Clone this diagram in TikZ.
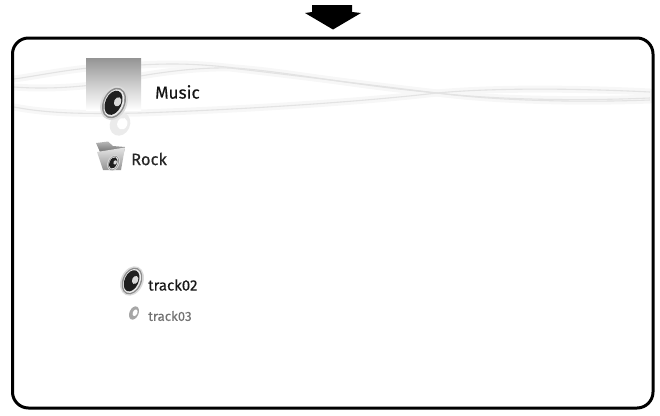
\documentclass[tikz,border=0pt]{standalone}
\usepackage{fontspec}
\setmainfont[FakeBold=0.35]{Fira Sans}
\tikzset{
  frame/.style={draw=black,line width=3pt,rounded corners=16pt},
  lab/.style={anchor=west,inner sep=0pt,text=#1},
  halo/.style={draw=black!3,line width=7pt,line cap=round},
  wavy/.style={draw=black!11,line width=1.1pt},
}
\newcommand{\wavepaths}[1]{%
  \draw[#1] (14,79) .. controls (50,74) and (80,66) .. (140,65) .. controls (175,63) and (200,64) .. (235,68) .. controls (290,72) and (350,85) .. (437,93) .. controls (490,100) and (570,103) .. (650,100);
  \draw[#1] (14,87) .. controls (40,89) and (70,88) .. (100,84) .. controls (140,75) and (190,67) .. (230,68) .. controls (300,76) and (370,85) .. (437,93) .. controls (500,100) and (580,101) .. (650,98);
  \draw[#1] (14,107) .. controls (50,114) and (90,114) .. (140,113) .. controls (230,110) and (350,103) .. (437,93) .. controls (490,88) and (570,88) .. (650,92);
}
\newcommand{\speaker}[4]{% x,y,rx,ry
  \begin{scope}[shift={(#1,#2)},rotate=-24]
    \fill[black!14] (0,0) ellipse ({#3*1.18} and {#4*1.1});
    \fill[black!45] (0,0) ellipse ({#3} and {#4});
    \fill[black!8] (0,0) ellipse ({#3*.86} and {#4*.9});
    \fill[black!88] (-.05*#3,0) ellipse ({#3*.74} and {#4*.8});
    \fill[black!15] (.26*#3,-.16*#4) ellipse ({#3*.32} and {#4*.3});
  \end{scope}
}
\newcommand{\ghost}[5]{% x,y,rx,ry,grey
  \begin{scope}[shift={(#1,#2)},rotate=-24]
    \fill[black!#5] (0,0) ellipse ({#3} and {#4});
    \fill[white] (.2*#3,-.1*#4) ellipse ({#3*.5} and {#4*.5});
  \end{scope}
}
\begin{document}
\begin{tikzpicture}[x=1pt,y=-1pt]
\useasboundingbox (0,0) rectangle (660,415);
% arrow
\fill[black] (312,5) -- (352,5) -- (352,12) -- (361,13) -- (333,29.5) -- (305,13) -- (312,12) -- cycle;
% waves
\wavepaths{halo}
\wavepaths{wavy}
% selection square
\shade[top color=black!42,bottom color=white,middle color=black!20] (86,58) rectangle (141,110);
% reflection
\ghost{120}{124}{10}{12}{8}
% main speaker
\speaker{114}{103}{11}{16}
% folder
\shade[top color=black!28,bottom color=black!55] (96,143) -- (108,141.5) -- (113,146) -- (125,147) -- (124,152) -- (100,152) -- cycle;
\shade[top color=black!10,bottom color=black!42] (97,152) -- (125,147.5) -- (121,170) -- (103,170) -- cycle;
\speaker{113.5}{163}{5}{7.5}
% track icons
\speaker{132}{281}{9.5}{14}
\ghost{134}{313}{4.5}{7}{35}
% labels
\node[lab=black!92,font=\fontsize{17.2}{18}\selectfont] (music) at (155,92) {Music};
\node[lab=black!85,font=\fontsize{16.5}{18}\selectfont] (rock) at (131,159) {Rock};
\node[lab=black!90,font=\fontsize{15}{18}\selectfont] (t2) at (148,285) {track02};
\node[lab=black!55,font=\fontsize{13.2}{18}\selectfont] (t3) at (148,316) {track03};
% frame
\draw[frame] (12.5,38) rectangle (653,408);
\end{tikzpicture}
\end{document}
